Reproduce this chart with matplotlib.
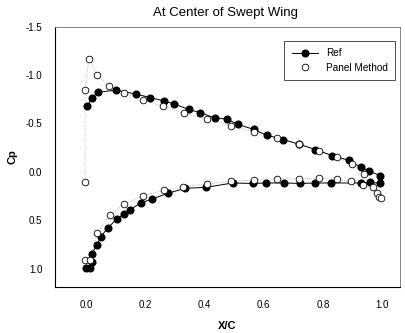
import numpy as np
import matplotlib
matplotlib.use('Agg')
import matplotlib.pyplot as plt

plt.rcParams['font.family'] = ['Liberation Sans', 'DejaVu Sans']
plt.rcParams['axes.unicode_minus'] = False

# Ref data, upper surface (LE -> TE)
xu_ref = [0.005, 0.020, 0.042, 0.103, 0.170, 0.216, 0.262, 0.299, 0.347, 0.386,
          0.436, 0.476, 0.512, 0.566, 0.611, 0.667, 0.720, 0.775, 0.831, 0.887,
          0.927, 0.955, 0.994]
yu_ref = [-0.676, -0.768, -0.823, -0.844, -0.803, -0.768, -0.734, -0.700, -0.645, -0.611,
          -0.556, -0.545, -0.491, -0.439, -0.378, -0.333, -0.285, -0.230, -0.168, -0.120,
          -0.050, -0.010, 0.040]
# Ref data, lower surface (LE -> TE)
xl_ref = [0.000, 0.013, 0.021, 0.019, 0.036, 0.051, 0.073, 0.104, 0.127, 0.149,
          0.186, 0.224, 0.278, 0.335, 0.406, 0.495, 0.564, 0.609, 0.670, 0.724,
          0.775, 0.829, 0.927, 0.958, 0.994]
yl_ref = [0.990, 0.990, 0.930, 0.850, 0.760, 0.670, 0.580, 0.490, 0.440, 0.390,
          0.320, 0.280, 0.220, 0.170, 0.160, 0.115, 0.120, 0.115, 0.115, 0.120,
          0.115, 0.115, 0.115, 0.110, 0.117]

# Panel method, upper surface (LE -> TE), first point is the stagnation one
xu_pm = [-0.003, -0.003, 0.010, 0.037, 0.079, 0.129, 0.194, 0.260, 0.330, 0.410,
         0.489, 0.566, 0.645, 0.720, 0.788, 0.848, 0.899, 0.940]
yu_pm = [0.105, -0.844, -1.170, -1.002, -0.889, -0.816, -0.741, -0.679, -0.604, -0.545,
         -0.477, -0.415, -0.353, -0.285, -0.220, -0.151, -0.080, 0.020]
# Panel method, lower surface (LE -> TE)
xl_pm = [-0.003, 0.0135, 0.038, 0.081, 0.129, 0.194, 0.262, 0.329, 0.408,
         0.489, 0.566, 0.645, 0.720, 0.786, 0.848, 0.895, 0.936, 0.970, 0.982,
         0.990, 0.997]
yl_pm = [0.913, 0.906, 0.628, 0.443, 0.336, 0.247, 0.192, 0.155, 0.124,
         0.099, 0.082, 0.072, 0.072, 0.065, 0.079, 0.092, 0.134, 0.160, 0.215,
         0.255, 0.272]

x_ticks = [0.0, 0.2, 0.4, 0.6, 0.8, 1.0]
y_ticks = [-1.5, -1.0, -0.5, 0.0, 0.5, 1.0]

fig = plt.figure(figsize=(4.06, 3.33), dpi=100)
ax = fig.add_axes([0.135, 0.138, 0.850, 0.782])

x_ref = xu_ref + xl_ref[::-1]
y_ref = yu_ref + yl_ref[::-1]

ax.plot(x_ref, y_ref, '-o', color='black', lw=0.7, ms=4.8, mec='black',
        mfc='black', label='Ref', zorder=2)
# faint dotted trace through the panel points
ax.plot(xu_pm, yu_pm, ':', color='0.65', lw=0.6, zorder=1)
ax.plot(xl_pm, yl_pm, ':', color='0.65', lw=0.6, zorder=1)
ax.plot(xu_pm + xl_pm, yu_pm + yl_pm, 'o', ls='none', ms=4.8, mfc='white',
        mec='black', mew=0.6, label='Panel Method', zorder=3)

ax.set_xlim(-0.105, 1.06)
ax.set_ylim(1.19, -1.5)
ax.set_xticks(x_ticks)
ax.set_yticks(y_ticks)
ax.set_xticklabels(['%.1f' % v for v in x_ticks])
ax.set_yticklabels(['%.1f' % v for v in y_ticks])
ax.tick_params(length=0, labelsize=7, pad=9)

for s in ['left', 'bottom']:
    ax.spines[s].set_linewidth(0.8)
for s in ['top', 'right']:
    ax.spines[s].set_linewidth(0.6)
    ax.spines[s].set_color('0.45')

ax.set_xlabel('X/C', fontsize=8, fontweight='bold', labelpad=8)
ax.set_ylabel('Cp', fontsize=8, fontweight='bold', labelpad=6)
fig.text(0.555, 0.962, 'At Center of Swept Wing', ha='center', va='center',
         fontsize=9.5)

leg = ax.legend(loc='upper right', bbox_to_anchor=(0.973, 0.878),
                bbox_transform=fig.transFigure, fontsize=7.2, fancybox=False,
                edgecolor='black', handlelength=2.6, borderpad=0.75,
                labelspacing=0.45, handletextpad=0.8, borderaxespad=0)
leg.get_frame().set_linewidth(0.6)

fig.savefig('out.png', dpi=100)
